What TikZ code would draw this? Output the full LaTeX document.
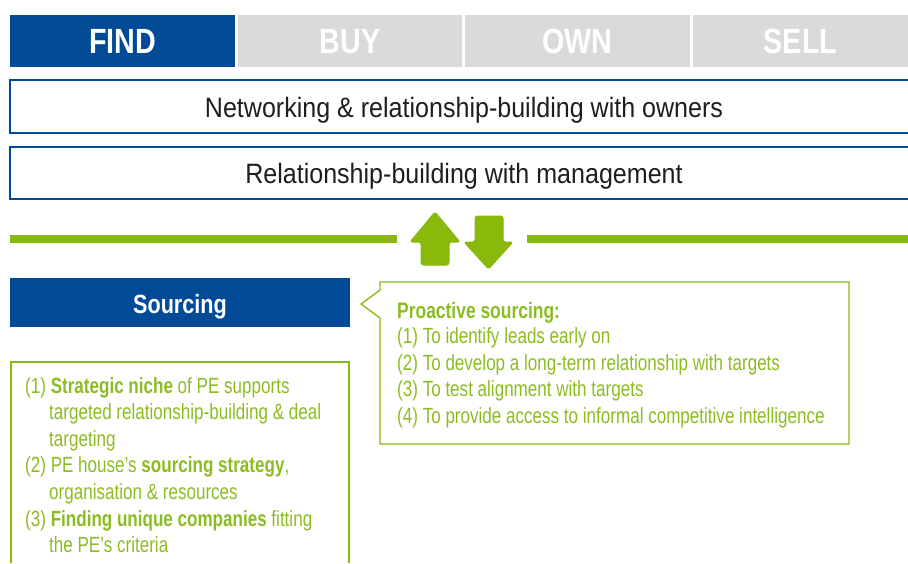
\documentclass[tikz,border=0pt]{standalone}
\usepackage{fontspec}
\setmainfont[FakeStretch=0.82]{Liberation Sans}
\newfontfamily\bandfont[FakeStretch=0.895]{Liberation Sans}
\newfontfamily\gfont[FakeStretch=0.775]{Liberation Sans}
\definecolor{pblue}{HTML}{004A98}
\definecolor{pgray}{HTML}{D9DADB}
\definecolor{pgreen}{HTML}{89B90A}
\definecolor{tgreen}{HTML}{8CBC22}
\definecolor{tdark}{HTML}{1E1E1E}
\tikzset{
  tabtext/.style={text=white, font=\fontsize{35}{40}\selectfont\bfseries, anchor=base},
  bandtext/.style={text=tdark, font=\bandfont\fontsize{28}{32}\selectfont, anchor=base},
  gtext/.style={text=tgreen, font=\gfont\fontsize{22}{26}\selectfont, anchor=base west, inner sep=0},
  arrowshape/.style={fill=pgreen, draw=pgreen, line width=1pt, rounded corners=2.5pt},
}
\begin{document}
\begin{tikzpicture}[x=1pt,y=-1pt]
\useasboundingbox (0,0) rectangle (908,563);
% tabs
\fill[pblue] (10,15) rectangle (235,67);
\fill[pgray] (238,15) rectangle (462,67);
\fill[pgray] (465,15) rectangle (690,67);
\fill[pgray] (693,15) rectangle (908,67);
\node[tabtext] (find) at (122.5,53) {FIND};
\node[tabtext] (buy) at (350,53) {BUY};
\node[tabtext] (own) at (577.5,53) {OWN};
\node[tabtext] (sell) at (800.5,53) {SELL};
% bands
\draw[pblue, line width=2pt] (908,80) -- (10,80) -- (10,133) -- (908,133);
\node[bandtext] (owners) at (464,117) {Networking \& relationship-building with owners};
\draw[pblue, line width=2pt] (908,147) -- (10,147) -- (10,199) -- (908,199);
\node[bandtext] (mgmt) at (464,183.5) {Relationship-building with management};
% green line
\fill[pgreen] (10,235) rectangle (397,243);
\fill[pgreen] (527,235) rectangle (908,243);
% arrows
\filldraw[arrowshape] (435,212) -- (460,242) -- (449,242) -- (449,265) -- (421,265) -- (421,242) -- (410,242) -- cycle;
\filldraw[arrowshape] (488.5,269) -- (513,242) -- (503,242) -- (503,216) -- (475,216) -- (475,242) -- (464,242) -- cycle;
% sourcing
\fill[pblue] (10,278) rectangle (350,327);
\node[text=white, font=\fontsize{26.4}{30}\selectfont\bfseries, anchor=base] (sourcing) at (180,313.5) {Sourcing};
% callout
\draw[pgreen, line width=1.3pt] (380,290) -- (380,282) -- (849,282) -- (849,444) -- (380,444) -- (380,318) -- (361,304) -- cycle;
\node[gtext, font=\gfont\fontsize{22.5}{26}\selectfont\bfseries] (ptitle) at (397,318) {Proactive sourcing:};
\node[gtext] (p1) at (397,343.5) {(1) To identify leads early on};
\node[gtext] (p2) at (397,370.1) {(2) To develop a long-term relationship with targets};
\node[gtext] (p3) at (397,396.7) {(3) To test alignment with targets};
\node[gtext] (p4) at (397,423.3) {(4) To provide access to informal competitive intelligence};
% left box
\draw[pgreen, line width=1.3pt] (11,563) -- (11,362) -- (349,362) -- (349,563);
\node[gtext] (l1) at (25,393) {(1) \textbf{Strategic niche} of PE supports};
\node[gtext] (l2) at (49,419.6) {targeted relationship-building \& deal};
\node[gtext] (l3) at (49,446.2) {targeting};
\node[gtext] (l4) at (25,472.8) {(2) PE house’s \textbf{sourcing strategy},};
\node[gtext] (l5) at (49,499.4) {organisation \& resources};
\node[gtext] (l6) at (25,526) {(3) \textbf{Finding unique companies} fitting};
\node[gtext] (l7) at (49,552.6) {the PE’s criteria};
\end{tikzpicture}
\end{document}
